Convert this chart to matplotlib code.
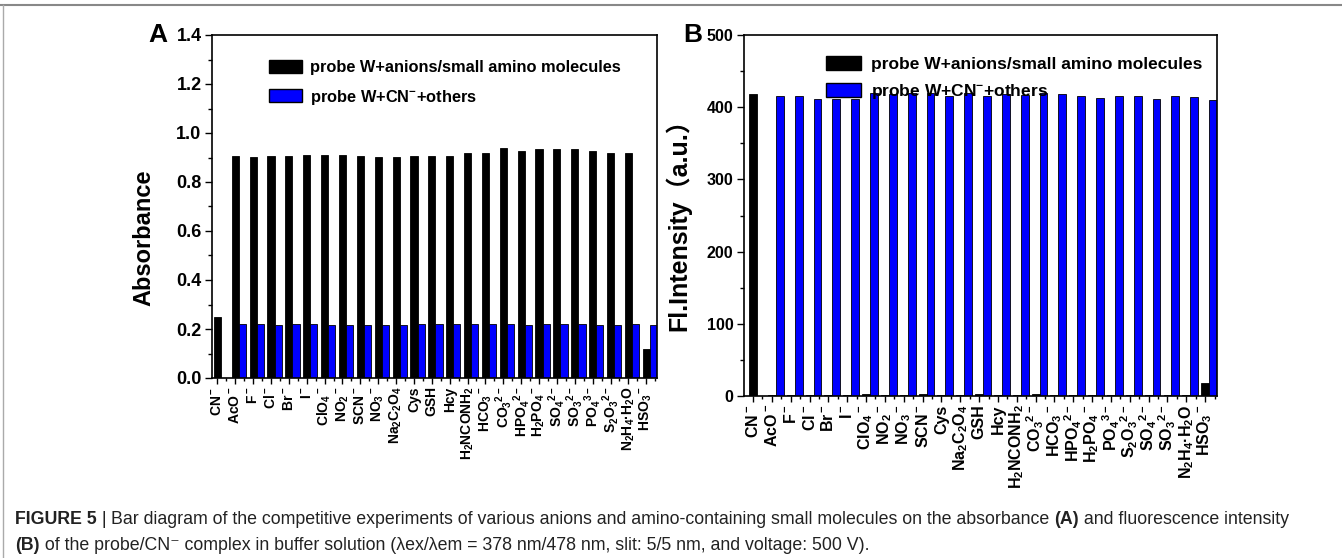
import matplotlib
matplotlib.use('Agg')
import matplotlib.pyplot as plt
from matplotlib.ticker import MultipleLocator
from matplotlib.lines import Line2D
import numpy as np

plt.rcParams['font.family'] = ['Liberation Sans', 'DejaVu Sans']
plt.rcParams['mathtext.fontset'] = 'custom'
plt.rcParams['mathtext.rm'] = 'Liberation Sans:bold'
plt.rcParams['mathtext.it'] = 'Liberation Sans:bold'
plt.rcParams['mathtext.bf'] = 'Liberation Sans:bold'

# panel A: absorbance
labels_a = ['CN$^-$', 'AcO$^-$', 'F$^-$', 'Cl$^-$', 'Br$^-$', 'I$^-$', 'ClO$_4$$^-$', 'NO$_2$$^-$',
            'SCN$^-$', 'NO$_3$$^-$', 'Na$_2$C$_2$O$_4$', 'Cys', 'GSH', 'Hcy', 'H$_2$NCONH$_2$',
            'HCO$_3$$^-$', 'CO$_3$$^{2-}$', 'HPO$_4$$^{2-}$', 'H$_2$PO$_4$$^-$', 'SO$_4$$^{2-}$',
            'SO$_3$$^{2-}$', 'PO$_4$$^{3-}$', 'S$_2$O$_3$$^{2-}$', 'N$_2$H$_4$·H$_2$O', 'HSO$_3$$^-$']
black_a = [0.25, 0.905, 0.904, 0.907, 0.907, 0.910, 0.912, 0.910, 0.905, 0.903, 0.903, 0.905,
           0.905, 0.905, 0.920, 0.918, 0.937, 0.928, 0.935, 0.935, 0.933, 0.927, 0.920, 0.918, 0.12]
blue_a = [0.0, 0.220, 0.219, 0.218, 0.219, 0.219, 0.218, 0.216, 0.216, 0.218, 0.216, 0.220,
          0.220, 0.219, 0.219, 0.219, 0.220, 0.217, 0.220, 0.219, 0.220, 0.218, 0.218, 0.219, 0.215]

# panel B: fluorescence intensity
labels_b = ['CN$^-$', 'AcO$^-$', 'F$^-$', 'Cl$^-$', 'Br$^-$', 'I$^-$', 'ClO$_4$$^-$', 'NO$_2$$^-$',
            'NO$_3$$^-$', 'SCN$^-$', 'Cys', 'Na$_2$C$_2$O$_4$', 'GSH', 'Hcy', 'H$_2$NCONH$_2$',
            'CO$_3$$^{2-}$', 'HCO$_3$$^-$', 'HPO$_4$$^{2-}$', 'H$_2$PO$_4$$^-$', 'PO$_4$$^{3-}$',
            'S$_2$O$_3$$^{2-}$', 'SO$_4$$^{2-}$', 'SO$_3$$^{2-}$', 'N$_2$H$_4$·H$_2$O', 'HSO$_3$$^-$']
black_b = [418, 2, 2, 2, 2, 2, 3, 2, 2, 3, 2, 2, 3, 2, 2, 3, 2, 2, 2, 2, 2, 2, 2, 2, 18]
blue_b = [0, 415, 415, 411, 411, 411, 419, 418, 419, 420, 416, 419, 415, 418, 417,
          420, 418, 416, 413, 415, 415, 412, 415, 414, 410]

legend_labels = ['probe W+anions/small amino molecules', 'probe W+CN$^{-}$+others']

fig = plt.figure(figsize=(13.42, 5.58), dpi=100)
W, H = 1342, 558


def bar_panel(ax, labels, black, blue, w, xleft, label_size, ytick_size):
    x = np.arange(len(labels))
    ax.bar(x, black, w, color='black', edgecolor='black', linewidth=0.6, zorder=2)
    ax.bar(x + w, blue, w, color='#0000ff', edgecolor='black', linewidth=0.6, zorder=2)
    ax.set_xlim(xleft, len(labels) - 1 + 1.5 * w)
    ax.set_xticks(x)
    ax.set_xticks(x + 0.5, minor=True)
    ax.set_xticklabels(labels, rotation=90, fontsize=label_size, fontweight='bold')
    ax.tick_params(axis='x', which='major', direction='out', length=4, width=1, pad=2)
    ax.tick_params(axis='x', which='minor', direction='out', length=2.5, width=1)
    ax.tick_params(axis='y', which='major', direction='out', length=5, width=1,
                   labelsize=ytick_size, pad=2.5)
    ax.tick_params(axis='y', which='minor', direction='out', length=3, width=1)
    for s in ax.spines.values():
        s.set_linewidth(1.2)


handles = [plt.Rectangle((0, 0), 1, 1, facecolor='black', edgecolor='black'),
           plt.Rectangle((0, 0), 1, 1, facecolor='#0000ff', edgecolor='black')]

# ---------------- A ----------------
ax_a = fig.add_axes([212 / W, 1 - 378 / H, (657 - 212) / W, (378 - 35) / H])
bar_panel(ax_a, labels_a, black_a, blue_a, 0.4, -0.3, 10, 13)
ax_a.set_ylim(0, 1.4)
ax_a.yaxis.set_major_locator(MultipleLocator(0.2))
ax_a.yaxis.set_minor_locator(MultipleLocator(0.1))
ax_a.yaxis.set_major_formatter(matplotlib.ticker.FormatStrFormatter('%.1f'))
for lab in ax_a.get_yticklabels():
    lab.set_fontweight('bold')
ax_a.set_ylabel('Absorbance', fontsize=17, fontweight='bold')
ax_a.yaxis.set_label_coords(-0.128, 0.41)
ax_a.legend(handles, legend_labels, loc='upper left', bbox_to_anchor=(0.095, 0.97),
            frameon=False, prop={'weight': 'bold', 'size': 11.8},
            handlelength=2.0, handleheight=0.85, handletextpad=0.5, labelspacing=0.75)
fig.text(148 / W, 1 - 35 / H, 'A', fontsize=19, fontweight='bold', va='center', ha='left')

# ---------------- B ----------------
ax_b = fig.add_axes([744 / W, 1 - 396 / H, (1217 - 744) / W, (396 - 35) / H])
bar_panel(ax_b, labels_b, black_b, blue_b, 0.42, -0.48, 11.5, 11.5)
ax_b.set_ylim(0, 500)
ax_b.yaxis.set_major_locator(MultipleLocator(100))
ax_b.yaxis.set_minor_locator(MultipleLocator(50))
for lab in ax_b.get_yticklabels():
    lab.set_fontweight('bold')
ax_b.set_ylabel('Fl.Intensity（a.u.）', fontsize=18, fontweight='bold',
                family=['Liberation Sans', 'Noto Sans CJK SC'])
ax_b.yaxis.set_label_coords(-0.112, 0.49)
ax_b.legend(handles, legend_labels, loc='upper left', bbox_to_anchor=(0.14, 0.985),
            frameon=False, prop={'weight': 'bold', 'size': 12.5},
            handlelength=2.0, handleheight=0.9, handletextpad=0.6, labelspacing=0.55)
fig.text(702 / W, 1 - 35 / H, 'B', fontsize=19, fontweight='bold', va='center', ha='right')

# page frame lines
fig.add_artist(Line2D([0, 1], [1 - 5 / H, 1 - 5 / H], color='#888888', lw=1.5))
fig.add_artist(Line2D([3 / W, 3 / W], [0, 1 - 5 / H], color='#aaaaaa', lw=1.0))

# caption, pieces laid out left to right
cap_font = ['Liberation Sans Narrow', 'Liberation Sans', 'DejaVu Sans']
cap_lines = [
    [('FIGURE 5', 'bold'), (' | ', 'normal'),
     ('Bar diagram of the competitive experiments of various anions and amino-containing '
      'small molecules on the absorbance ', 'normal'),
     ('(A)', 'bold'), (' and fluorescence intensity', 'normal')],
    [('(B)', 'bold'),
     (' of the probe/CN⁻ complex in buffer solution (λex/λem = 378 nm/478 nm, slit: 5/5 nm, '
      'and voltage: 500 V).', 'normal')],
]
renderer = fig.canvas.get_renderer()
for row, pieces in zip([519, 545], cap_lines):
    xpos = 15 / W
    for s, wt in pieces:
        t = fig.text(xpos, 1 - row / H, s, fontsize=12.8, fontweight=wt, family=cap_font,
                     va='center', ha='left', color='#222222')
        bb = t.get_window_extent(renderer)
        xpos += bb.width / W

fig.savefig('out.png', dpi=100)
